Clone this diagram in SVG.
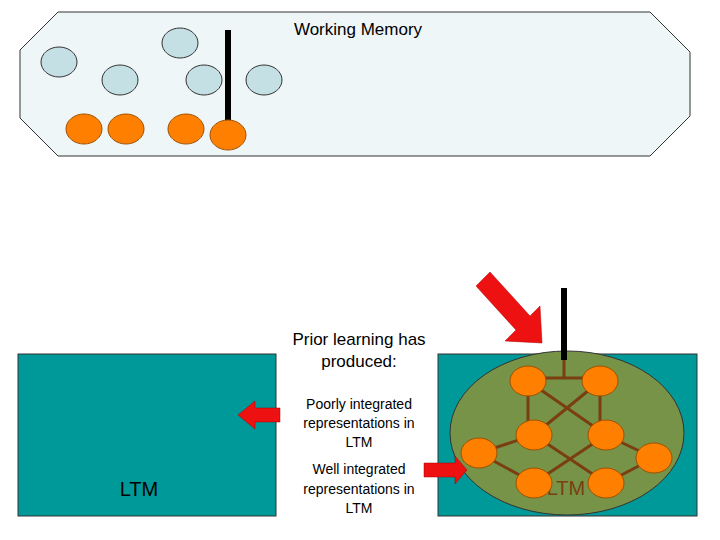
<svg xmlns="http://www.w3.org/2000/svg" width="720" height="540" viewBox="0 0 720 540">
<style>
.t{font-family:"Liberation Sans",Arial,sans-serif;fill:#000;text-anchor:middle}
.b{fill:#c4e0e4;stroke:#333;stroke-width:1}
.o{fill:#ff8000;stroke:#a05000;stroke-width:1}
.e{stroke:#7a3e10;stroke-width:3;fill:none}
.r{fill:#ee1111;stroke:#aa0000;stroke-width:0.5}
</style>
<rect width="720" height="540" fill="#fff"/>
<g id="working-memory">
<polygon points="58,12 650,12 690,52 690,116 650,156 58,156 20,118 20,50" fill="#eef6f8" stroke="#333"/>
<text class="t" x="358" y="35" font-size="17">Working Memory</text>
<ellipse class="b" cx="59" cy="62" rx="18" ry="15"/>
<ellipse class="b" cx="180" cy="43" rx="18" ry="15"/>
<ellipse class="b" cx="120" cy="80" rx="18" ry="15"/>
<ellipse class="b" cx="204" cy="80" rx="18" ry="15"/>
<ellipse class="b" cx="264" cy="80" rx="18" ry="15"/>
<ellipse class="o" cx="84" cy="129" rx="18" ry="15"/>
<ellipse class="o" cx="126" cy="129" rx="18" ry="15"/>
<ellipse class="o" cx="186" cy="129" rx="18" ry="15"/>
<rect x="225" y="30" width="6" height="92" fill="#000"/>
<ellipse class="o" cx="228" cy="135" rx="18" ry="15"/>
</g>
<g id="ltm-left">
<rect x="18" y="354" width="258" height="162" fill="#009999" stroke="#333"/>
<text class="t" x="139" y="496" font-size="20">LTM</text>
</g>
<g id="ltm-right">
<rect x="438" y="354" width="259" height="162" fill="#009999" stroke="#333"/>
<ellipse cx="567" cy="433" rx="117" ry="82" fill="#769348" stroke="#333"/>
<text class="t" x="566" y="495" font-size="20" fill="#7a3e10" style="fill:#7a3e10">LTM</text>
</g>
<g id="connectors">
<rect x="561" y="288" width="6" height="72" fill="#000"/>
<path class="e" d="M564 360V378M528 378H600M528 381V435M600 381V435M528 381L606 435M600 381L534 435M534 435L479 453M534 435L606 483M606 435L534 483M606 435L654 458M479 453L534 483M606 483L654 458"/>
<polygon class="r" points="476,286 490,272 530,316 540,306 542,343 505,341 516,330"/>
<polygon class="r" points="280,408 255,408 255,401 238,415 255,429 255,422 280,422"/>
<polygon class="r" points="424,463 455,463 455,456 467,470 455,484 455,477 424,477"/>
</g>
<g id="ellipse-nodes">
<ellipse class="o" cx="528" cy="381" rx="18" ry="15"/>
<ellipse class="o" cx="600" cy="381" rx="18" ry="15"/>
<ellipse class="o" cx="534" cy="435" rx="18" ry="15"/>
<ellipse class="o" cx="606" cy="435" rx="18" ry="15"/>
<ellipse class="o" cx="479" cy="453" rx="18" ry="15"/>
<ellipse class="o" cx="654" cy="458" rx="18" ry="15"/>
<ellipse class="o" cx="534" cy="483" rx="18" ry="15"/>
<ellipse class="o" cx="606" cy="483" rx="18" ry="15"/>
</g>
<g id="labels">
<text class="t" x="359" y="345" font-size="17">Prior learning has</text>
<text class="t" x="359" y="367" font-size="17">produced:</text>
<text class="t" x="359" y="409" font-size="14">Poorly integrated</text>
<text class="t" x="359" y="428" font-size="14">representations in</text>
<text class="t" x="359" y="447" font-size="14">LTM</text>
<text class="t" x="359" y="474" font-size="14">Well integrated</text>
<text class="t" x="359" y="494" font-size="14">representations in</text>
<text class="t" x="359" y="513" font-size="14">LTM</text>
</g>
</svg>
